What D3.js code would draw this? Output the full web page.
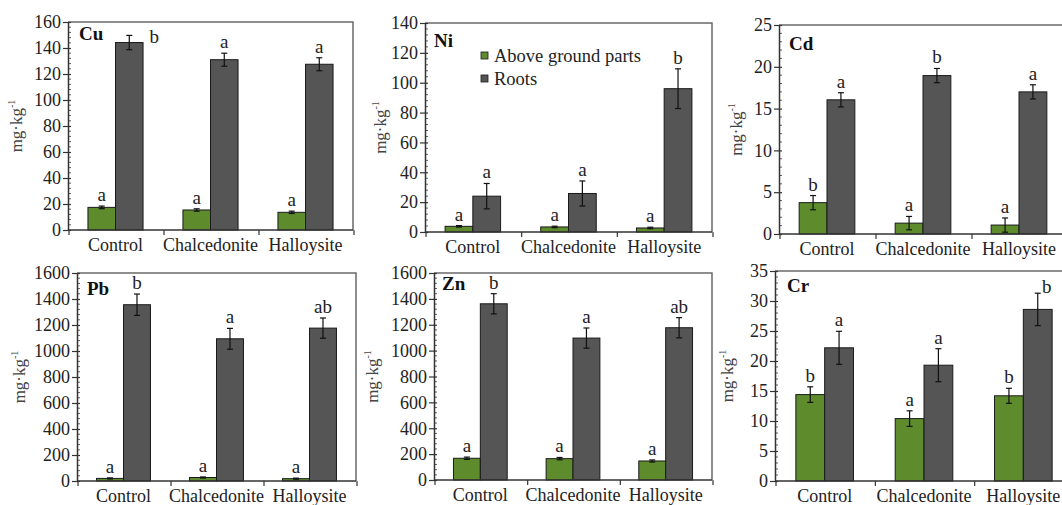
<!DOCTYPE html>
<html><head><meta charset="utf-8">
<script src="https://cdn.jsdelivr.net/npm/d3@7"></script>
<style>
html,body{margin:0;padding:0;background:#fff;}
svg{display:block;}
svg text{font-family:"Liberation Serif","DejaVu Serif",serif !important;}
</style></head>
<body>
<svg id="chart" width="1062" height="505"></svg>
<script>
// ---------- DATA ----------
const categories = ["Control", "Chalcedonite", "Halloysite"];
const seriesNames = ["Above ground parts", "Roots"];
const yLabel = "mg·kg";
const yLabelSup = "-1";

const cuAbove = [17.4, 15.4, 13.6];
const cuAboveErr = [1.0, 0.9, 0.9];
const cuRoots = [144.2, 131, 127.5];
const cuRootsErr = [5.5, 5, 5];
const cuAboveLetters = ["a", "a", "a"];
const cuRootsLetters = ["b", "a", "a"];
const cuTicks = [0, 20, 40, 60, 80, 100, 120, 140, 160];

const niAbove = [3.8, 3.4, 2.7];
const niAboveErr = [0.5, 0.5, 0.5];
const niRoots = [24, 25.8, 96];
const niRootsErr = [8.5, 8.4, 13.3];
const niAboveLetters = ["a", "a", "a"];
const niRootsLetters = ["a", "a", "b"];
const niTicks = [0, 20, 40, 60, 80, 100, 120, 140];

const cdAbove = [3.75, 1.3, 1.07];
const cdAboveErr = [0.85, 0.8, 0.85];
const cdRoots = [16.05, 18.95, 17.0];
const cdRootsErr = [0.85, 0.85, 0.85];
const cdAboveLetters = ["b", "a", "a"];
const cdRootsLetters = ["a", "b", "a"];
const cdTicks = [0, 5, 10, 15, 20, 25];

const pbAbove = [20, 27, 18];
const pbAboveErr = [4, 4, 4];
const pbRoots = [1356, 1094, 1176];
const pbRootsErr = [82, 80, 78];
const pbAboveLetters = ["a", "a", "a"];
const pbRootsLetters = ["b", "a", "ab"];
const pbTicks = [0, 200, 400, 600, 800, 1000, 1200, 1400, 1600];

const znAbove = [168, 165, 147];
const znAboveErr = [9, 9, 8];
const znRoots = [1362, 1097, 1177];
const znRootsErr = [78, 78, 78];
const znAboveLetters = ["a", "a", "a"];
const znRootsLetters = ["b", "a", "ab"];
const znTicks = [0, 200, 400, 600, 800, 1000, 1200, 1400, 1600];

const crAbove = [14.4, 10.4, 14.2];
const crAboveErr = [1.3, 1.3, 1.25];
const crRoots = [22.2, 19.3, 28.6];
const crRootsErr = [2.75, 2.75, 2.7];
const crAboveLetters = ["b", "a", "b"];
const crRootsLetters = ["a", "a", "b"];
const crTicks = [0, 5, 10, 15, 20, 25, 30, 35];

// ---------- LAYOUT / STYLE ----------
const FONT = "'Liberation Serif', 'DejaVu Serif', serif";
const colors = ["#5e8c2c", "#555555"];
const panels = [
  {name:"Cu", above:cuAbove, aboveErr:cuAboveErr, roots:cuRoots, rootsErr:cuRootsErr, la:cuAboveLetters, lr:cuRootsLetters, ticks:cuTicks,
   left:68, top:22, bottom:230, right:353, ylx:22, tdx:11, tdy:18, special:{s:1, c:0, dx:25, dy:13}},
  {name:"Ni", above:niAbove, aboveErr:niAboveErr, roots:niRoots, rootsErr:niRootsErr, la:niAboveLetters, lr:niRootsLetters, ticks:niTicks,
   left:425, top:23, bottom:232, right:712, ylx:386, tdx:9, tdy:24, legend:true},
  {name:"Cd", above:cdAbove, aboveErr:cdAboveErr, roots:cdRoots, rootsErr:cdRootsErr, la:cdAboveLetters, lr:cdRootsLetters, ticks:cdTicks,
   left:779, top:25, bottom:234, right:1067, ylx:742, tdx:10, tdy:25},
  {name:"Pb", above:pbAbove, aboveErr:pbAboveErr, roots:pbRoots, rootsErr:pbRootsErr, la:pbAboveLetters, lr:pbRootsLetters, ticks:pbTicks,
   left:77, top:273, bottom:481, right:356, ylx:25, tdx:10, tdy:22},
  {name:"Zn", above:znAbove, aboveErr:znAboveErr, roots:znRoots, rootsErr:znRootsErr, la:znAboveLetters, lr:znRootsLetters, ticks:znTicks,
   left:434, top:273, bottom:480, right:712, ylx:378, tdx:8, tdy:17},
  {name:"Cr", above:crAbove, aboveErr:crAboveErr, roots:crRoots, rootsErr:crRootsErr, la:crAboveLetters, lr:crRootsLetters, ticks:crTicks,
   left:775, top:271, bottom:481, right:1073, ylx:733, tdx:12, tdy:21, special:{s:1, c:2, dx:9, dy:5}}
];

const svg = d3.select("#chart");

panels.forEach(p => {
  const g = svg.append("g");
  const ticks = p.ticks;
  const y = d3.scaleLinear().domain([ticks[0], ticks[ticks.length-1]]).range([p.bottom, p.top]);
  const x = d3.scaleBand().domain(categories).range([p.left, p.right]);
  const bw = x.bandwidth();
  const xs = d3.scaleBand().domain([0,1]).range([bw*0.21, bw*0.79]);

  // frame (top & right)
  g.append("path")
    .attr("d", `M${p.left},${p.top}H${p.right}V${p.bottom}`)
    .attr("fill","none").attr("stroke","#6a6a6a").attr("stroke-width",1.5);

  // minor ticks
  const step = ticks[1]-ticks[0];
  const minor = [];
  for (let i = 0; i < ticks.length-1; i++) for (let k = 1; k < 5; k++) minor.push(ticks[i] + step*k/5);
  g.selectAll(".minor").data(minor).join("line")
    .attr("x1", p.left).attr("x2", p.left+3)
    .attr("y1", d => y(d)).attr("y2", d => y(d))
    .attr("stroke","#333").attr("stroke-width",0.8);

  // y axis
  const ya = g.append("g").attr("transform",`translate(${p.left},0)`)
    .call(d3.axisLeft(y).tickValues(ticks).tickSizeInner(5).tickSizeOuter(0).tickPadding(2).tickFormat(d3.format("d")));
  ya.attr("font-family", FONT);
  ya.select(".domain").attr("stroke","#333").attr("stroke-width",1.5);
  ya.selectAll(".tick line").attr("stroke","#333").attr("stroke-width",1.2).attr("x2",-5).attr("x1",3);
  ya.selectAll(".tick text").attr("font-size",18).attr("fill","#222").style("font-family", FONT);

  // bars
  const data = [];
  categories.forEach((c,i) => {
    data.push({c, s:0, ci:i, v:p.above[i], e:p.aboveErr[i], l:p.la[i]});
    data.push({c, s:1, ci:i, v:p.roots[i], e:p.rootsErr[i], l:p.lr[i]});
  });
  g.selectAll(".bar").data(data).join("rect")
    .attr("x", d => x(d.c)+xs(d.s)).attr("width", xs.bandwidth())
    .attr("y", d => y(d.v)).attr("height", d => y(0)-y(d.v))
    .attr("fill", d => colors[d.s]).attr("stroke","#1a1a1a").attr("stroke-width",1);

  // error bars
  const cx = d => x(d.c)+xs(d.s)+xs.bandwidth()/2;
  const eg = g.selectAll(".err").data(data).join("g").attr("stroke","#111").attr("stroke-width",1.2);
  eg.append("line").attr("x1",cx).attr("x2",cx).attr("y1",d=>y(d.v+d.e)).attr("y2",d=>y(d.v-d.e));
  eg.append("line").attr("x1",d=>cx(d)-3).attr("x2",d=>cx(d)+3).attr("y1",d=>y(d.v+d.e)).attr("y2",d=>y(d.v+d.e));
  eg.append("line").attr("x1",d=>cx(d)-3).attr("x2",d=>cx(d)+3).attr("y1",d=>y(d.v-d.e)).attr("y2",d=>y(d.v-d.e));

  // letters
  g.selectAll(".let").data(data).join("text")
    .attr("x", d => {
      const sp = p.special && p.special.s===d.s && p.special.c===d.ci;
      return cx(d) + (sp ? p.special.dx : 0);
    })
    .attr("y", d => {
      const sp = p.special && p.special.s===d.s && p.special.c===d.ci;
      return y(d.v+d.e) - 5 + (sp ? p.special.dy : 0);
    })
    .attr("text-anchor","middle").attr("font-size",19).attr("fill","#222").style("font-family", FONT)
    .text(d => d.l);

  // x axis
  const bounds = categories.map(c => x(c)).concat([p.right]);
  g.append("line").attr("x1",p.left).attr("x2",p.right).attr("y1",p.bottom).attr("y2",p.bottom)
    .attr("stroke","#333").attr("stroke-width",1.5);
  g.selectAll(".xt").data(bounds).join("line")
    .attr("x1", d => d+1).attr("x2", d => d+1).attr("y1", p.bottom).attr("y2", p.bottom+5)
    .attr("stroke","#333").attr("stroke-width",1.2);
  g.selectAll(".xl").data(categories).join("text")
    .attr("x", d => x(d)+bw/2).attr("y", p.bottom+21)
    .attr("text-anchor","middle").attr("font-size",18).attr("fill","#222").style("font-family", FONT)
    .text(d => d);

  // panel title
  g.append("text").attr("x", p.left+p.tdx).attr("y", p.top+p.tdy)
    .attr("font-size",19).attr("font-weight","bold").attr("fill","#111").style("font-family", FONT).text(p.name);

  // y label
  const yl = g.append("text")
    .attr("transform",`translate(${p.ylx},${(p.top+p.bottom)/2}) rotate(-90)`)
    .attr("text-anchor","middle").attr("font-size",17).attr("fill","#444").style("font-family", FONT);
  yl.append("tspan").text(yLabel);
  yl.append("tspan").attr("dy",-7).attr("font-size",10).text(yLabelSup);

  // legend
  if (p.legend) {
    const lg = g.append("g");
    seriesNames.forEach((s,i) => {
      lg.append("rect").attr("x",481).attr("y",52+i*23).attr("width",7).attr("height",7)
        .attr("fill",colors[i]).attr("stroke","#1a1a1a").attr("stroke-width",0.8);
      lg.append("text").attr("x",494).attr("y",62+i*23).attr("font-size",18.5).attr("fill","#222")
        .style("font-family", FONT).text(s);
    });
  }
});
</script>
</body></html>
